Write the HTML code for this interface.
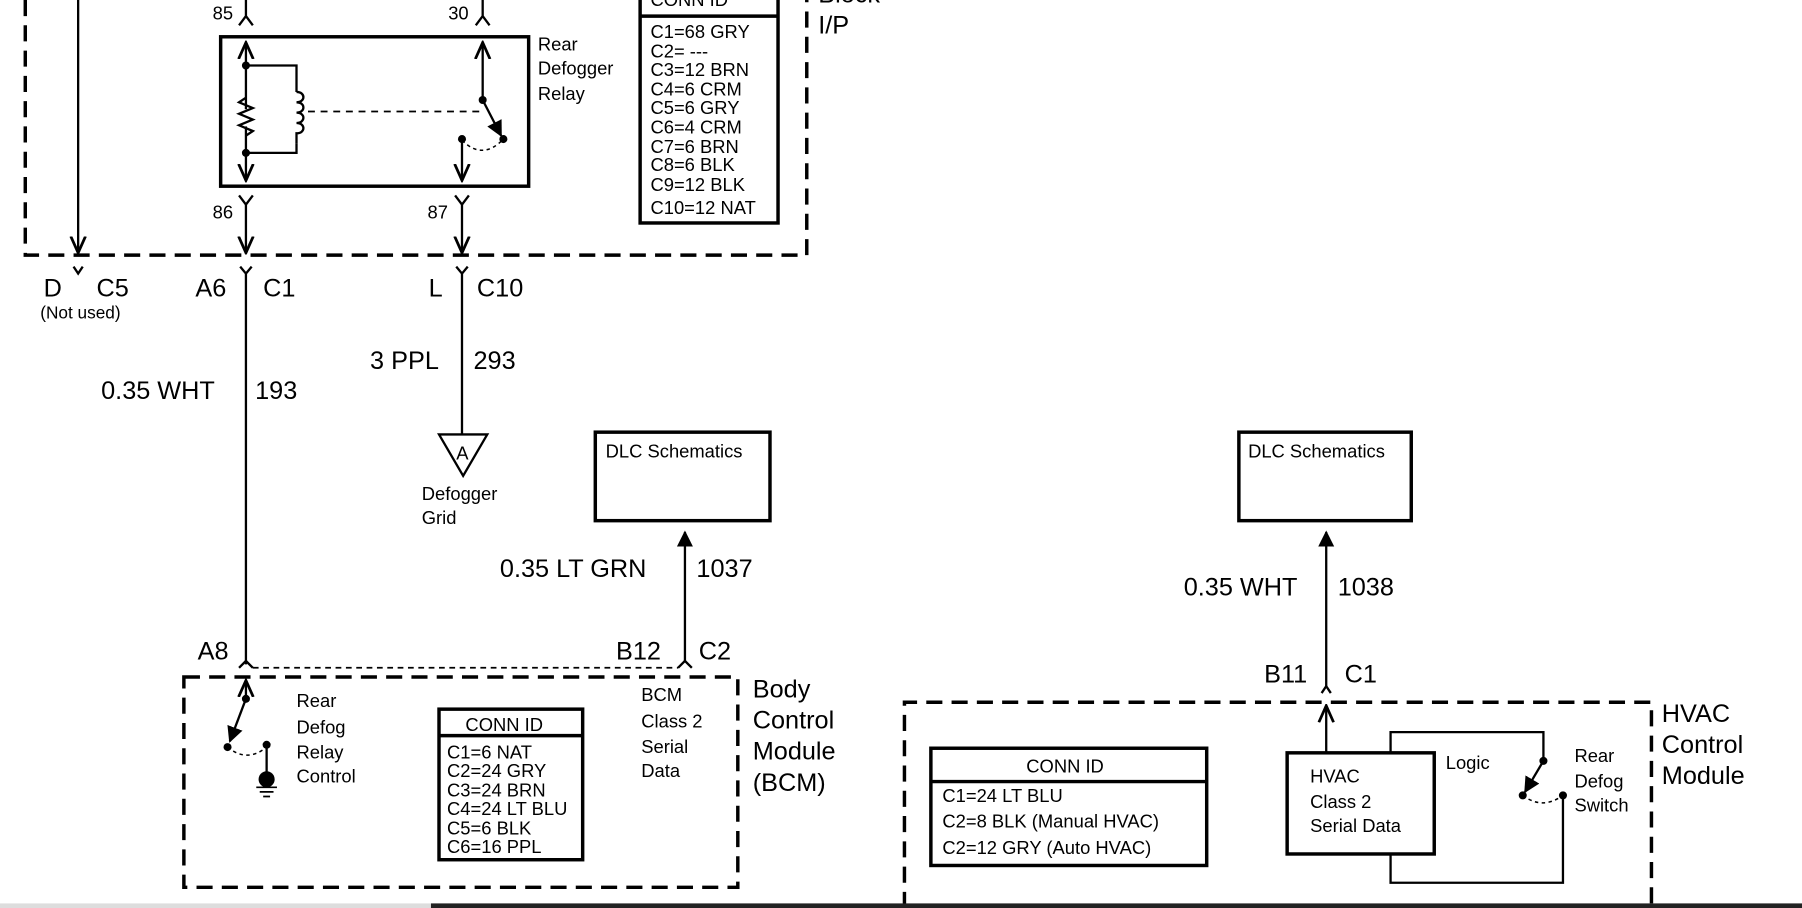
<!DOCTYPE html>
<html><head><style>
html,body{margin:0;padding:0;background:#fff;width:1802px;height:908px;overflow:hidden}
svg{display:block}
text{font-family:"Liberation Sans",Arial,sans-serif;fill:#000}
</style></head><body>
<svg width="1802" height="908" viewBox="0 0 1568 790" preserveAspectRatio="none" xmlns="http://www.w3.org/2000/svg">
<defs>
<marker id="op" viewBox="0 0 10 10" refX="9" refY="5" markerWidth="8" markerHeight="8" orient="auto"><path d="M0,1 L9,5 L0,9" fill="none" stroke="#000" stroke-width="1.5"/></marker>
<marker id="fl" viewBox="0 0 10 10" refX="9" refY="5" markerWidth="7" markerHeight="7" orient="auto"><path d="M0,0 L10,5 L0,10 z" fill="#000"/></marker>
</defs>
<rect width="1568" height="790" fill="#fff"/>
<g stroke="#000" fill="none" stroke-width="2">
<path d="M22,0 V222 H702 V0" stroke-width="3" stroke-dasharray="14,8"/>
<line x1="68" y1="0" x2="68" y2="220" marker-end="url(#op)"/>
<rect x="192" y="32" width="268" height="130" stroke-width="3"/>
<path d="M214,0 V14 M208,22 L214,14 L220,22"/>
<path d="M420,0 V14 M414,22 L420,14 L426,22"/>
<line x1="214" y1="95" x2="214" y2="37" marker-end="url(#op)"/>
<line x1="214" y1="110" x2="214" y2="157" marker-end="url(#op)"/>
<path d="M214,85 l-6,4 12,5 -12,5 12,5 -12,5 12,5 -6,4"/>
<path d="M214,57 H258 V80 M258,125 V133 H214"/>
<path d="M258,80 c8,0 8,9 0,9 c8,0 8,9 0,9 c8,0 8,9 0,9 c8,0 8,9 0,9 v9"/>
<line x1="268" y1="97" x2="420" y2="97" stroke-width="1.5" stroke-dasharray="6,5"/>
<line x1="420" y1="87" x2="420" y2="37" marker-end="url(#op)"/>
<line x1="420" y1="87" x2="436" y2="118" marker-end="url(#fl)"/>
<path d="M402,122 Q420,140 438,121" stroke-width="1.3" stroke-dasharray="3,3"/>
<line x1="402" y1="121" x2="402" y2="157" marker-end="url(#op)"/>
<path d="M208,170 L214,178 L220,170"/>
<line x1="214" y1="178" x2="214" y2="220" marker-end="url(#op)"/>
<path d="M396,170 L402,178 L408,170"/>
<line x1="402" y1="178" x2="402" y2="220" marker-end="url(#op)"/>
<rect x="557" y="-5" width="120" height="199" stroke-width="3"/>
<line x1="557" y1="14" x2="677" y2="14" stroke-width="3"/>
<path d="M64,232 L68,238 L72,232"/>
<path d="M209,232 L214,238 L219,232 M214,238 V578"/>
<path d="M397,232 L402,238 L407,232 M402,238 V378"/>
<path d="M382,378 H424 L403,414 Z"/>
<rect x="518" y="376" width="152" height="77" stroke-width="3"/>
<rect x="1078" y="376" width="150" height="77" stroke-width="3"/>
<line x1="596" y1="576" x2="596" y2="463" marker-end="url(#fl)"/>
<line x1="1154" y1="598" x2="1154" y2="463" marker-end="url(#fl)"/>
<path d="M208,581 L214,575 L220,581"/>
<path d="M590,581 L596,575 L602,581"/>
<path d="M1150,603 L1154,597 L1158,603"/>
<line x1="220" y1="581" x2="590" y2="581" stroke-width="1.5" stroke-dasharray="5,4"/>
<path d="M160,589 H642 V772 H160 Z" stroke-width="3" stroke-dasharray="14,8"/>
<line x1="214" y1="608" x2="214" y2="592" marker-end="url(#op)"/>
<line x1="214" y1="608" x2="200" y2="645" marker-end="url(#fl)"/>
<path d="M198,650 Q215,664 232,650" stroke-width="1.3" stroke-dasharray="3,3"/>
<line x1="232" y1="648" x2="232" y2="678"/>
<path d="M223,685 H241 M226,689 H238 M229,693 H235" stroke-width="1.5"/>
<rect x="382" y="617" width="125" height="131" stroke-width="3"/>
<line x1="382" y1="640" x2="507" y2="640" stroke-width="3"/>
<path d="M787,790 V611 H1437 V790" stroke-width="3" stroke-dasharray="14,8"/>
<line x1="1154" y1="655" x2="1154" y2="614" marker-end="url(#op)"/>
<rect x="1120" y="655" width="128" height="88" stroke-width="3"/>
<path d="M1210,655 V637 H1343 V662"/>
<line x1="1343" y1="662" x2="1327" y2="689" marker-end="url(#fl)"/>
<path d="M1325,692 Q1342,705 1360,692" stroke-width="1.3" stroke-dasharray="3,3"/>
<path d="M1360,692 V768 H1210 V743"/>
<rect x="810" y="651" width="240" height="102" stroke-width="3"/>
<line x1="810" y1="680" x2="1050" y2="680" stroke-width="3"/>
</g>
<g fill="#000">
<circle cx="214" cy="57" r="3.5"/><circle cx="214" cy="133" r="3.5"/>
<circle cx="420" cy="87" r="3.5"/><circle cx="438" cy="121" r="3.5"/><circle cx="402" cy="121" r="3.5"/>
<circle cx="214" cy="608" r="3.5"/><circle cx="198" cy="650" r="3.5"/><circle cx="232" cy="648" r="3.5"/>
<circle cx="232" cy="678" r="7"/>
<circle cx="1343" cy="662" r="3.5"/><circle cx="1325" cy="692" r="3.5"/><circle cx="1360" cy="692" r="3.5"/>
</g>
<rect x="0" y="786" width="375" height="4" fill="#ddd"/>
<rect x="375" y="786" width="1193" height="4" fill="#222"/>
<g font-size="16">
<text x="185" y="17">85</text><text x="390" y="17">30</text>
<text x="185" y="190">86</text><text x="372" y="190">87</text>
<text x="468" y="44">Rear</text><text x="468" y="65">Defogger</text><text x="468" y="87">Relay</text>
<text x="566" y="5">CONN ID</text>
<text x="566" y="33">C1=68 GRY</text><text x="566" y="50">C2= ---</text><text x="566" y="66">C3=12 BRN</text>
<text x="566" y="83">C4=6 CRM</text><text x="566" y="99">C5=6 GRY</text><text x="566" y="116">C6=4 CRM</text>
<text x="566" y="133">C7=6 BRN</text><text x="566" y="149">C8=6 BLK</text><text x="566" y="166">C9=12 BLK</text>
<text x="566" y="186">C10=12 NAT</text>
<text x="35" y="277" font-size="15">(Not used)</text>
<text x="367" y="435">Defogger</text><text x="367" y="456">Grid</text>
<text x="397" y="400" font-size="16">A</text>
<text x="527" y="398">DLC Schematics</text><text x="1086" y="398">DLC Schematics</text>
<text x="258" y="615">Rear</text><text x="258" y="638">Defog</text><text x="258" y="660">Relay</text><text x="258" y="681">Control</text>
<text x="405" y="636">CONN ID</text>
<text x="389" y="660">C1=6 NAT</text><text x="389" y="676">C2=24 GRY</text><text x="389" y="693">C3=24 BRN</text>
<text x="389" y="709">C4=24 LT BLU</text><text x="389" y="726">C5=6 BLK</text><text x="389" y="742">C6=16 PPL</text>
<text x="558" y="610">BCM</text><text x="558" y="633">Class 2</text><text x="558" y="655">Serial</text><text x="558" y="676">Data</text>
<text x="893" y="672">CONN ID</text>
<text x="820" y="698">C1=24 LT BLU</text><text x="820" y="720">C2=8 BLK (Manual HVAC)</text><text x="820" y="743">C2=12 GRY (Auto HVAC)</text>
<text x="1140" y="681">HVAC</text><text x="1140" y="703">Class 2</text><text x="1140" y="724">Serial Data</text>
<text x="1258" y="669">Logic</text>
<text x="1370" y="663">Rear</text><text x="1370" y="685">Defog</text><text x="1370" y="706">Switch</text>
</g>
<g font-size="22">
<text x="712" y="2">Block</text><text x="712" y="29">I/P</text>
<text x="38" y="258">D</text><text x="84" y="258">C5</text>
<text x="170" y="258">A6</text><text x="229" y="258">C1</text>
<text x="373" y="258">L</text><text x="415" y="258">C10</text>
<text x="322" y="321">3 PPL</text><text x="412" y="321">293</text>
<text x="88" y="347">0.35 WHT</text><text x="222" y="347">193</text>
<text x="435" y="502">0.35 LT GRN</text><text x="606" y="502">1037</text>
<text x="1030" y="518">0.35 WHT</text><text x="1164" y="518">1038</text>
<text x="172" y="574">A8</text><text x="536" y="574">B12</text><text x="608" y="574">C2</text>
<text x="1100" y="594">B11</text><text x="1170" y="594">C1</text>
<text x="655" y="607">Body</text><text x="655" y="634">Control</text><text x="655" y="661">Module</text><text x="655" y="688">(BCM)</text>
<text x="1446" y="628">HVAC</text><text x="1446" y="655">Control</text><text x="1446" y="682">Module</text>
</g>
</svg>
</body></html>
